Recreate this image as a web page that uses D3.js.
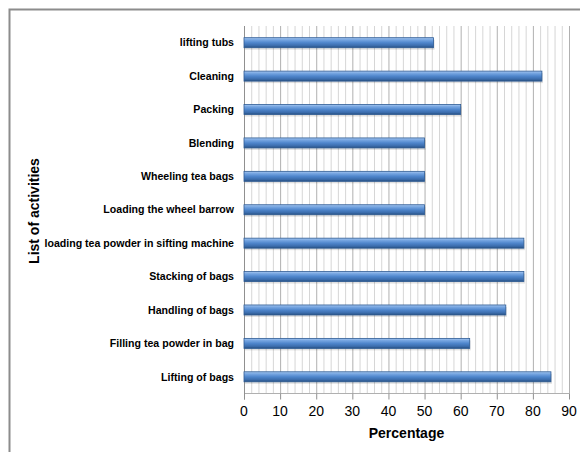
<!DOCTYPE html>
<html><head><meta charset="utf-8">
<script src="https://cdn.jsdelivr.net/npm/d3@7"></script>
<style>body{margin:0;background:#fff}svg{display:block;font-family:"Liberation Sans",Arial,sans-serif}</style>
</head><body>
<script>
const categories = ["lifting tubs","Cleaning","Packing","Blending","Wheeling tea bags","Loading the wheel barrow","loading tea powder in sifting machine","Stacking of bags","Handling of bags","Filling tea powder in bag","Lifting of bags"];
const values = [52.5, 82.5, 60, 50, 50, 50, 77.5, 77.5, 72.5, 62.5, 85];
const xTicks = [0,10,20,30,40,50,60,70,80,90];
const minorTicks = d3.range(0, 91, 2);

const W = 580, H = 452;
const svg = d3.select("body").append("svg").attr("width", W).attr("height", H);

// frame
svg.append("path").attr("d", "M9.5,452 V9.5 H580").attr("fill","none").attr("stroke","#8c8c8c").attr("stroke-width",2);

const pLeft = 244, pRight = 569, pTop = 26, pBottom = 393.5;
const x = d3.scaleLinear().domain([0,90]).range([pLeft, pRight]);
const y = d3.scaleBand().domain(categories).range([pTop, pBottom]).paddingInner(0).paddingOuter(0);

const defs = svg.append("defs");
const g = defs.append("linearGradient").attr("id","barGrad").attr("x1",0).attr("y1",0).attr("x2",0).attr("y2",1);
[[0,"#a9c8f0"],[0.2,"#78a7e2"],[0.5,"#4f86cc"],[0.8,"#3b6cac"],[1,"#27507f"]].forEach(s=>g.append("stop").attr("offset",s[0]).attr("stop-color",s[1]));

// gridlines
svg.append("g").selectAll("line").data(minorTicks).join("line")
  .attr("x1", d=>x(d)+0.5).attr("x2", d=>x(d)+0.5)
  .attr("y1", pTop).attr("y2", pBottom)
  .attr("stroke", d=> d%10===0 ? "#b0b0b0" : "#d6d6d6").attr("stroke-width",1);

// bottom axis line + ticks
svg.append("line").attr("x1",pLeft).attr("x2",pRight+0.5).attr("y1",pBottom).attr("y2",pBottom).attr("stroke","#b0b0b0");
svg.append("g").selectAll("line").data(xTicks).join("line")
  .attr("x1", d=>x(d)+0.5).attr("x2", d=>x(d)+0.5).attr("y1", pBottom).attr("y2", pBottom+6)
  .attr("stroke","#909090");
// left axis line
svg.append("line").attr("x1",pLeft+0.5).attr("x2",pLeft+0.5).attr("y1",pTop).attr("y2",pBottom+6).attr("stroke","#909090");

// bars
const bh = 10;
const bars = svg.append("g");
bars.selectAll("rect.shadow").data(values).join("rect").attr("class","shadow")
  .attr("x", x(0)+1).attr("y", (d,i)=>y(categories[i])+y.bandwidth()/2-bh/2+2)
  .attr("width", d=>x(d)-x(0)).attr("height", bh).attr("fill","#000").attr("opacity",0.12);
bars.selectAll("rect.bar").data(values).join("rect").attr("class","bar")
  .attr("x", x(0)).attr("y", (d,i)=>y(categories[i])+y.bandwidth()/2-bh/2)
  .attr("width", d=>x(d)-x(0)).attr("height", bh).attr("fill","url(#barGrad)")
  .attr("stroke","#2d5b94").attr("stroke-width",0.8);

// category labels
svg.append("g").selectAll("text").data(categories).join("text")
  .attr("x", 234).attr("y", d=>y(d)+y.bandwidth()/2).attr("dy","0.35em")
  .attr("text-anchor","end").attr("font-size",10.6).attr("font-weight","bold").attr("fill","#000")
  .text(d=>d);

// x tick labels
svg.append("g").selectAll("text").data(xTicks).join("text")
  .attr("x", d=>x(d)).attr("y", 416).attr("text-anchor","middle")
  .attr("font-size",14).attr("fill","#000").text(d=>d);

svg.append("text").attr("x",(pLeft+pRight)/2).attr("y",438).attr("text-anchor","middle")
  .attr("font-size",14).attr("font-weight","bold").text("Percentage");
svg.append("text").attr("transform","translate(39,211) rotate(-90)").attr("text-anchor","middle")
  .attr("font-size",14).attr("font-weight","bold").text("List of activities");
</script>
</body></html>
